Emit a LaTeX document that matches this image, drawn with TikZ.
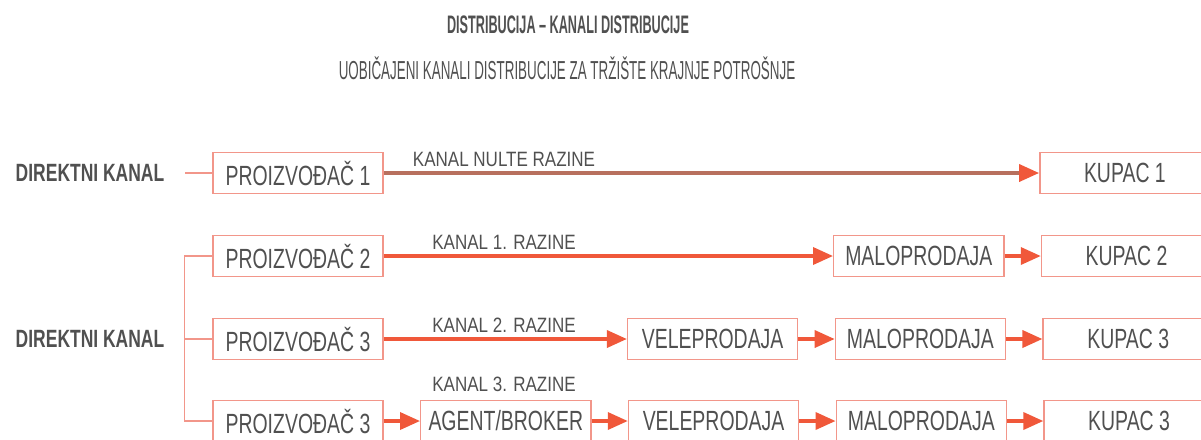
\documentclass[tikz,border=0pt]{standalone}
\usepackage{fontspec}
\setmainfont{Liberation Sans}[FakeStretch=0.7]
\newfontfamily\headfont{Liberation Sans}[FakeStretch=0.5]
\newfontfamily\subfont{Liberation Sans}[FakeStretch=0.515]
\newfontfamily\chanfont{Liberation Sans}[FakeStretch=0.82]
\usepackage{xcolor}
\usetikzlibrary{arrows.meta, positioning}
\definecolor{myred}{HTML}{F0583A}
\definecolor{mybrown}{HTML}{B8705E}
\definecolor{myline}{HTML}{F2968A}
\definecolor{mytext}{HTML}{505050}

\begin{document}
\begin{tikzpicture}[x=0.01cm, y=-0.01cm,
                box/.style={rectangle, draw=myline, line width=0.014cm, minimum width=1.7cm, minimum height=0.41cm, inner sep=0pt, text=mytext, font=\fontsize{7.9}{9}\selectfont},
                arrow/.style={-{Triangle[length=0.2cm, width=0.17cm, color=myred]}, line width=0.035cm, color=myred},
                link/.style={draw=myline, line width=0.014cm},
                chan/.style={text=mytext, inner sep=0pt, font=\chanfont\fontsize{5.9}{7}\selectfont},
                side/.style={text=mytext, inner sep=0pt, anchor=east, font=\bfseries\fontsize{7.1}{8}\selectfont}]
                \useasboundingbox (0,0) rectangle (1201,439);
                \clip (0,0) rectangle (1201,439);
                % naslov
                \node[text=mytext, font=\headfont\bfseries\fontsize{7.2}{8}\selectfont] (title) at (568,25) {DISTRIBUCIJA – KANALI DISTRIBUCIJE};
                \node[text=mytext, font=\subfont\fontsize{7.4}{8}\selectfont] (subtitle) at (567,68) {UOBIČAJENI KANALI DISTRIBUCIJE ZA TRŽIŠTE KRAJNJE POTROŠNJE};

                % kanal nulte razine
                \node[side] (dir1) at (165,173) {DIREKTNI KANAL};
                \node[box] (prod1) at (298,173) {PROIZVOĐAČ 1};
                \node[box, right=6.55cm of prod1] (kup1) {KUPAC 1};
                \node[chan] (chan0) at (504,159) {KANAL NULTE RAZINE};

                % kanal 1. razine
                \node[box] (prod2) at (298,256) {PROIZVOĐAČ 2};
                \node[box, right=4.49cm of prod2] (malo2) {MALOPRODAJA};
                \node[box, right=0.3625cm of malo2] (kup2) {KUPAC 2};
                \node[chan] (chan1) at (504,242) {KANAL 1. RAZINE};

                % kanal 2. razine
                \node[side] (dir2) at (165,339) {DIREKTNI KANAL};
                \node[box] (prod3) at (298,339) {PROIZVOĐAČ 3};
                \node[box, right=2.43cm of prod3] (vele3) {VELEPRODAJA};
                \node[box, right=0.3625cm of vele3] (malo3) {MALOPRODAJA};
                \node[box, right=0.3625cm of malo3] (kup3) {KUPAC 3};
                \node[chan] (chan2) at (504,325) {KANAL 2. RAZINE};

                % kanal 3. razine
                \node[box] (prod4) at (298,421) {PROIZVOĐAČ 3};
                \node[box, right=0.3625cm of prod4] (agent4) {AGENT/BROKER};
                \node[box, right=0.3625cm of agent4] (vele4) {VELEPRODAJA};
                \node[box, right=0.3625cm of vele4] (malo4) {MALOPRODAJA};
                \node[box, right=0.3625cm of malo4] (kup4) {KUPAC 3};
                \node[chan] (chan3) at (504,384) {KANAL 3. RAZINE};

                \draw[link] ([xshift=0.2cm]dir1.east) -- (prod1.west);
                \draw[link] (prod2.west) -- ++(-0.28cm,0) |- (prod4.west);
                \draw[link] (prod3.west) -- ++(-0.28cm,0);

                \draw[arrow, color=mybrown] (prod1.east) -- (kup1.west);
                \draw[arrow] (prod2.east) -- (malo2.west);
                \draw[arrow] (malo2.east) -- (kup2.west);
                \draw[arrow] (prod3.east) -- (vele3.west);
                \draw[arrow] (vele3.east) -- (malo3.west);
                \draw[arrow] (malo3.east) -- (kup3.west);
                \draw[arrow] (prod4.east) -- (agent4.west);
                \draw[arrow] (agent4.east) -- (vele4.west);
                \draw[arrow] (vele4.east) -- (malo4.west);
                \draw[arrow] (malo4.east) -- (kup4.west);
            \end{tikzpicture}
\end{document}
